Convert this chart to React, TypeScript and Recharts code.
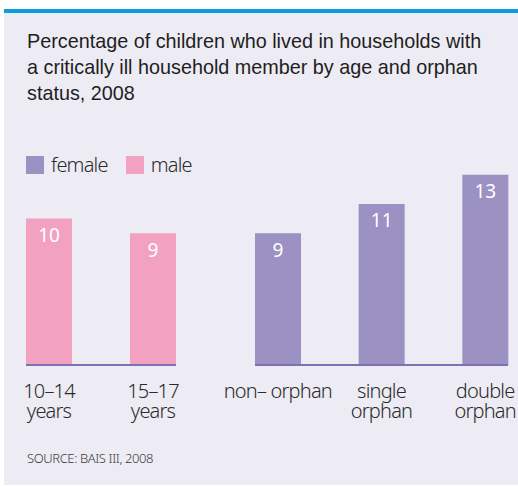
import { BarChart, Bar, XAxis, YAxis, LabelList } from "recharts";

const ageLabels = ["10–14\nyears", "15–17\nyears"];
const ageValues = [10, 9];
const orphanLabels = ["non– orphan", "single\norphan", "double\norphan"];
const orphanValues = [9, 11, 13];
const legendItems = ["female", "male"];

const PURPLE = "#9b91c3";
const PINK = "#f2a1c1";
const AXIS = "#7d72b4";
const BG = "#edebf4";
const SIDE = 40;

const ageData = ageLabels.map((name, i) => ({ name, value: ageValues[i] }));
const orphanData = orphanLabels.map((name, i) => ({ name, value: orphanValues[i] }));

const TwoLineTick = (props: any) => {
  const { x, y, payload } = props;
  const lines = String(payload.value).split("\n");
  return (
    <text
      x={x}
      y={y}
      textAnchor="middle"
      fill="#2b2b2b"
      fontFamily="'Noto Sans', sans-serif"
      fontWeight={300}
      fontSize={20}
      letterSpacing={-0.8}
    >
      {lines.map((l, i) => (
        <tspan key={i} x={x} dy={i === 0 ? 33 : 20}>
          {l}
        </tspan>
      ))}
    </text>
  );
};

const Chart = ({ data, width, color }: { data: any[]; width: number; color: string }) => (
  <BarChart
    width={width + SIDE * 2}
    height={265}
    data={data}
    margin={{ top: 0, right: SIDE, left: SIDE, bottom: 0 }}
  >
    <YAxis hide domain={[0, 14]} />
    <XAxis
      dataKey="name"
      height={60}
      interval={0}
      tickLine={false}
      tickSize={0}
      tickMargin={0}
      axisLine={{ stroke: AXIS, strokeWidth: 2 }}
      padding={{ left: -29, right: -29 }}
      tick={<TwoLineTick />}
    />
    <Bar dataKey="value" fill={color} barSize={46} isAnimationActive={false}>
      <LabelList
        dataKey="value"
        position="insideTop"
        offset={10}
        fill="#ffffff"
        fontSize={19}
        fontFamily="'Noto Sans', sans-serif"
      />
    </Bar>
  </BarChart>
);

export default function App() {
  return (
    <div style={{ position: "absolute", left: 0, top: 0, width: 518, height: 486, background: "#fff", overflow: "hidden" }}>
      <div
        style={{
          position: "absolute",
          left: 4,
          top: 9,
          width: 514,
          height: 476,
          background: BG,
          borderTop: "4px solid #0a9fdc",
          boxSizing: "border-box",
        }}
      />
      <div
        style={{
          position: "absolute",
          left: 27,
          top: 28,
          width: 468,
          fontFamily: "'Liberation Sans', Arial, sans-serif",
          fontSize: 19.8,
          lineHeight: "26px",
          color: "#1e1e1e",
        }}
      >
        Percentage of children who lived in households with a critically ill household member by age and orphan
        status, 2008
      </div>
      <div
        style={{
          position: "absolute",
          left: 26,
          top: 151,
          display: "flex",
          alignItems: "center",
          fontFamily: "'Noto Sans', sans-serif",
          fontWeight: 300,
          fontSize: 20,
          color: "#2b2b2b",
          letterSpacing: -0.8,
        }}
      >
        {legendItems.map((t, i) => (
          <div key={t} style={{ display: "flex", alignItems: "center", marginRight: 18 }}>
            <div style={{ width: 18, height: 18, background: i === 0 ? PURPLE : PINK, marginRight: 7 }} />
            <span>{t}</span>
          </div>
        ))}
      </div>
      <div style={{ position: "absolute", left: 26 - SIDE, top: 160 }}>
        <Chart data={ageData} width={150} color={PINK} />
      </div>
      <div style={{ position: "absolute", left: 255 - SIDE, top: 160 }}>
        <Chart data={orphanData} width={253} color={PURPLE} />
      </div>
      <div
        style={{
          position: "absolute",
          left: 27,
          top: 449,
          fontFamily: "'Noto Sans', sans-serif",
          fontWeight: 300,
          fontSize: 13,
          color: "#3a3a3a",
          letterSpacing: -0.4,
        }}
      >
        SOURCE: BAIS III, 2008
      </div>
    </div>
  );
}
